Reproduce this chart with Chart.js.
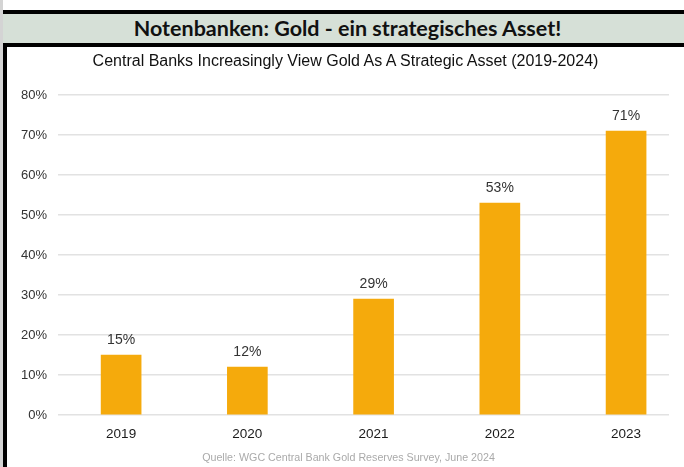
<!DOCTYPE html>
<html>
<head>
<meta charset="utf-8">
<script src="https://cdn.jsdelivr.net/npm/chart.js@4.4.1/dist/chart.umd.min.js"></script>
<style>
  html, body { margin: 0; padding: 0; background: #fff; }
  #wrap { position: relative; width: 684px; height: 467px; overflow: hidden; }
  #strip { position: absolute; left: 0; top: 0; width: 3px; height: 467px; background: #d4d4d4; }
  #border { position: absolute; left: 3px; top: 10px; width: 4px; height: 457px; background: #000; }
  #banner {
    position: absolute; left: 3px; top: 10px; right: 0; height: 29px;
    background: #d6e0d7; border-top: 4px solid #000; border-bottom: 4px solid #000;
    font: bold 21.5px Lato, "Open Sans", sans-serif; color: #111;
    text-align: center; line-height: 29px; padding-left: 8px;
  }
  #subtitle {
    position: absolute; left: 7px; right: 0; top: 52px; text-align: center;
    font: 16px "Liberation Sans", Arial, sans-serif; color: #111;
  }
  #source {
    position: absolute; left: 13px; right: 0; top: 451px; text-align: center;
    font: 10.7px "Liberation Sans", Arial, sans-serif; color: #aaa;
  }
  canvas { position: absolute; left: 0; top: 0; }
</style>
</head>
<body>
<div id="wrap">
  <canvas id="chart" width="684" height="467"></canvas>
  <div id="strip"></div>
  <div id="border"></div>
  <div id="banner">Notenbanken: Gold - ein strategisches Asset!</div>
  <div id="subtitle">Central Banks Increasingly View Gold As A Strategic Asset (2019-2024)</div>
  <div id="source">Quelle: WGC Central Bank Gold Reserves Survey, June 2024</div>
</div>
<script>
// data
const years = ["2019", "2020", "2021", "2022", "2023"];
const shares = [15, 12, 29, 53, 71];
const yTicks = [0, 10, 20, 30, 40, 50, 60, 70, 80];

// value labels above the bars
const barLabels = {
  id: "barLabels",
  afterDatasetsDraw(chart) {
    const ctx = chart.ctx;
    ctx.save();
    ctx.font = '14px "Liberation Sans", Arial, sans-serif';
    ctx.fillStyle = "#333";
    ctx.textAlign = "center";
    ctx.textBaseline = "middle";
    chart.getDatasetMeta(0).data.forEach((bar, i) => {
      ctx.fillText(shares[i] + "%", bar.x, bar.y - 15);
    });
    ctx.restore();
  }
};

new Chart(document.getElementById("chart"), {
  type: "bar",
  data: {
    datasets: [{
      data: shares.map((v, i) => ({ x: i, y: v })),
      backgroundColor: "#f5aa0c",
      barThickness: 40
    }]
  },
  options: {
    responsive: false,
    animation: false,
    layout: { padding: { top: 95, right: 15, bottom: 12, left: 0 } },
    plugins: { legend: { display: false }, tooltip: { enabled: false } },
    scales: {
      x: {
        type: "linear",
        offset: false,
        min: -0.5,
        max: 4.34,
        grid: { display: false, drawTicks: false },
        border: { display: false },
        afterBuildTicks: axis => { axis.ticks = years.map((_, i) => ({ value: i })); },
        afterFit: axis => { axis.height = 40; },
        ticks: {
          padding: 11,
          maxRotation: 0,
          color: "#1a1a1a",
          font: { family: '"Liberation Sans", Arial, sans-serif', size: 13.5 },
          callback: v => years[v]
        }
      },
      y: {
        min: 0,
        max: 80,
        afterBuildTicks: axis => { axis.ticks = yTicks.map(v => ({ value: v })); },
        afterFit: axis => { axis.width = 58; },
        grid: { color: "#e2e2e2", lineWidth: 1.5, drawTicks: false },
        border: { display: false },
        ticks: {
          padding: 11,
          color: "#333",
          font: { family: '"Liberation Sans", Arial, sans-serif', size: 13 },
          callback: v => v + "%"
        }
      }
    }
  },
  plugins: [barLabels]
});
</script>
</body>
</html>
